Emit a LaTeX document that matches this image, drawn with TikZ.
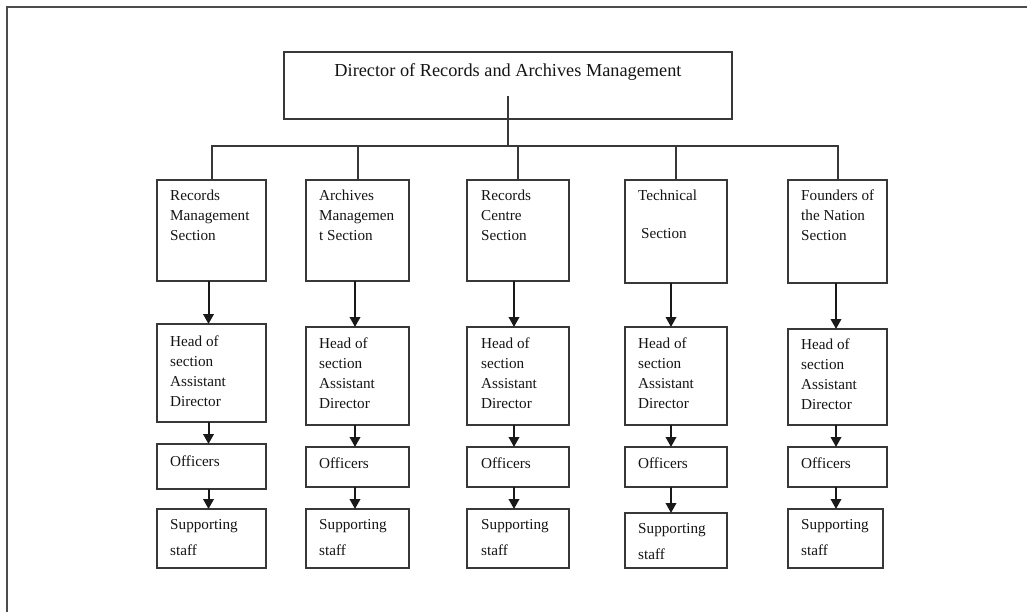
\documentclass[tikz,border=0pt]{standalone}
\usepackage{fontspec}
\setmainfont{Liberation Serif}
\usetikzlibrary{arrows.meta,calc}
\newcommand\obox[5]{\node[box,minimum width={#4-#2},minimum height={#5-#3}] (#1) at (#2,#3) {};}
\begin{document}
\begin{tikzpicture}[x=1pt,y=-1pt,
  box/.style={draw=black!78,line width=2pt,inner sep=0pt,outer sep=0pt,anchor=north west},
  txt/.style={anchor=north west,inner sep=0pt,align=left,text=black!92,font=\fontsize{15.2}{20}\selectfont},
  ln/.style={draw=black!78,line width=2pt},
  arr/.style={draw=black!90,line width=2pt,-{Triangle[width=10.5pt,length=10pt]}},
  frame/.style={draw=black!70,line width=2pt}]
\useasboundingbox (0,0) rectangle (1027,612);
\draw[frame] (7,612) -- (7,7) -- (1027,7);

% director
\obox{dir}{284}{52}{732}{119}
\node[anchor=base,inner sep=0pt,text=black!92,font=\fontsize{18.3}{22}\selectfont] (dt) at (508,77) {Director of Records and Archives Management};
\coordinate (dirin) at ([yshift=23pt]dir.south);
\coordinate (bus) at ([yshift=-27pt]dir.south);

% sections
\obox{s1}{157}{180}{266}{281}
\obox{s2}{306}{180}{409}{281}
\obox{s3}{467}{180}{569}{281}
\obox{s4}{625}{180}{727}{283}
\obox{s5}{788}{180}{887}{283}
\node[txt] (ts1) at (170,189.7) {Records\\Management\\Section};
\node[txt] (ts2) at (319,189.7) {Archives\\Managemen\\t Section};
\node[txt] (ts3) at (481,189.7) {Records\\Centre\\Section};
\node[txt] (ts4) at (638,189.7) {Technical\\[18pt]\hspace*{3pt}Section};
\node[txt] (ts5) at (801,189.7) {Founders of\\the Nation\\Section};

% heads
\obox{h1}{157}{324}{266}{422}
\obox{h2}{306}{327}{409}{425}
\obox{h3}{467}{327}{569}{425}
\obox{h4}{625}{327}{727}{425}
\obox{h5}{788}{329}{887}{425}
\node[txt] (th1) at (170,335.7) {Head of\\section\\Assistant\\Director};
\node[txt] (th2) at (319,337.7) {Head of\\section\\Assistant\\Director};
\node[txt] (th3) at (481,337.7) {Head of\\section\\Assistant\\Director};
\node[txt] (th4) at (638,337.7) {Head of\\section\\Assistant\\Director};
\node[txt] (th5) at (801,338.7) {Head of\\section\\Assistant\\Director};

% officers
\obox{o1}{157}{444}{266}{489}
\obox{o2}{306}{447}{409}{487}
\obox{o3}{467}{447}{569}{487}
\obox{o4}{625}{447}{727}{487}
\obox{o5}{788}{447}{887}{487}
\node[txt] (to1) at (170,455.7) {Officers};
\node[txt] (to2) at (319,457.7) {Officers};
\node[txt] (to3) at (481,457.7) {Officers};
\node[txt] (to4) at (638,457.7) {Officers};
\node[txt] (to5) at (801,457.7) {Officers};

% supporting staff
\obox{p1}{157}{509}{266}{568}
\obox{p2}{306}{509}{409}{568}
\obox{p3}{467}{509}{569}{568}
\obox{p4}{625}{513}{727}{568}
\obox{p5}{788}{509}{883}{568}
\node[txt] (tp1) at (170,519.7) {Supporting\\[6pt]staff};
\node[txt] (tp2) at (319,519.7) {Supporting\\[6pt]staff};
\node[txt] (tp3) at (481,519.7) {Supporting\\[6pt]staff};
\node[txt] (tp4) at (638,523.7) {Supporting\\[6pt]staff};
\node[txt] (tp5) at (801,519.7) {Supporting\\[6pt]staff};

% connectors
\draw[ln] (dirin) -- (bus);
\foreach \i in {1,...,5} \draw[ln] (bus) -| (s\i.north);
\foreach \i/\d in {1/-3,2/-2.5,3/-4,4/-5,5/-1.5} {
  \draw[arr] ([xshift=\d pt]s\i.south) -- ([xshift=\d pt]s\i.south |- h\i.north);
  \draw[arr] ([xshift=\d pt]h\i.south) -- ([xshift=\d pt]h\i.south |- o\i.north);
  \draw[arr] ([xshift=\d pt]o\i.south) -- ([xshift=\d pt]o\i.south |- p\i.north);
}
\end{tikzpicture}
\end{document}
